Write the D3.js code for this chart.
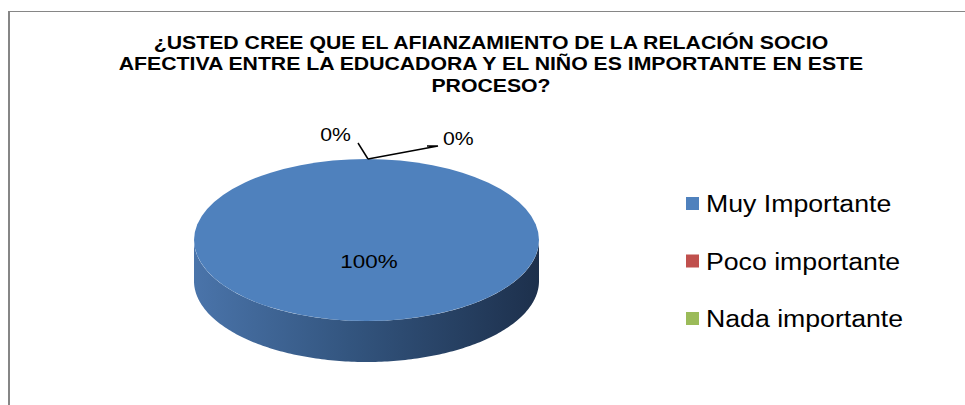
<!DOCTYPE html>
<html>
<head>
<meta charset="utf-8">
<script src="https://cdn.jsdelivr.net/npm/d3@7"></script>
<style>
  html, body { margin: 0; padding: 0; background: #fff; }
  svg { display: block; font-family: "Liberation Sans", Arial, sans-serif; }
</style>
</head>
<body>
<script>
// data
var categories = ["Muy Importante", "Poco importante", "Nada importante"];
var values = [100, 0, 0];
var colors = ["#4f81bd", "#c0504d", "#9bbb59"];
var titleLines = [
  "¿USTED CREE QUE EL AFIANZAMIENTO DE LA RELACIÓN SOCIO",
  "AFECTIVA ENTRE LA EDUCADORA Y EL NIÑO ES IMPORTANTE EN ESTE",
  "PROCESO?"
];

var W = 965, H = 405;
var SX = 1.18; // the original picture is a little wider than tall
var svg = d3.select("body").append("svg").attr("width", W).attr("height", H);

// text placed at x,y and stretched horizontally
function stext(parent, x, y) {
  return parent.append("g")
    .attr("transform", "translate(" + x + "," + y + ") scale(" + SX + ",1)")
    .append("text");
}

// frame
svg.append("line").attr("x1", 8).attr("y1", 11.5).attr("x2", W).attr("y2", 11.5)
  .attr("stroke", "#868686").attr("stroke-width", 1);
svg.append("line").attr("x1", 9).attr("y1", 11).attr("x2", 9).attr("y2", H)
  .attr("stroke", "#868686").attr("stroke-width", 2);

// title
stext(svg, 491, 0)
  .attr("text-anchor", "middle")
  .attr("font-weight", "bold")
  .attr("font-size", 18)
  .selectAll("tspan").data(titleLines).join("tspan")
  .attr("x", 0)
  .attr("y", function(d, i) { return 49 + i * 21.5; })
  .text(function(d) { return d; });

// pie geometry
var cx = 366.5, cy = 240, rx = 172.5, ry = 81, depth = 41;
var pie = d3.pie().sort(null).value(function(d) { return d; });
var arcs = pie(values);
var total = d3.sum(values);
var pct = d3.format(".0%");

var defs = svg.append("defs");
var grad = defs.append("linearGradient").attr("id", "side")
  .attr("x1", "0%").attr("x2", "100%").attr("y1", "0%").attr("y2", "0%");
grad.append("stop").attr("offset", "0%").attr("stop-color", "#4a74aa");
grad.append("stop").attr("offset", "45%").attr("stop-color", "#33557f");
grad.append("stop").attr("offset", "100%").attr("stop-color", "#1d304c");

// side wall (front half)
var sidePts = [];
d3.range(0, 181).forEach(function(a) {
  var t = a * Math.PI / 180;
  sidePts.push([cx + rx * Math.cos(t), cy + ry * Math.sin(t)]);
});
var sideBottom = sidePts.map(function(p) { return [p[0], p[1] + depth]; }).reverse();
svg.append("path")
  .attr("d", d3.line()(sidePts.concat(sideBottom)) + "Z")
  .attr("fill", "url(#side)");

// top face
var arc = d3.arc().innerRadius(0).outerRadius(rx);
svg.append("g")
  .attr("transform", "translate(" + cx + "," + cy + ") scale(1," + (ry / rx) + ")")
  .selectAll("path").data(arcs).join("path")
  .attr("d", arc)
  .attr("fill", function(d, i) { return colors[i]; });

// labels
arcs.filter(function(d) { return d.data > 0; }).forEach(function(d) {
  stext(svg, cx + 2.5, cy + 28)
    .attr("text-anchor", "middle")
    .attr("font-size", 19)
    .attr("fill", "#000")
    .text(pct(d.data / total));
});

// zero slices sit at the top of the ellipse, with leader lines
var topX = cx + 1.5, topY = cy - ry;
var zeros = arcs.filter(function(d) { return d.data === 0; });
var leaders = [
  { pts: [[-10, -16], [0, 0]], lx: -17, ly: -18, anchor: "end" },
  { pts: [[59, -13], [70, -13], [0, 0]], lx: 75, ly: -14, anchor: "start" }
];
zeros.forEach(function(d, i) {
  var L = leaders[i];
  svg.append("path")
    .attr("d", d3.line()(L.pts.map(function(p) { return [topX + p[0], topY + p[1]]; })))
    .attr("fill", "none").attr("stroke", "#000").attr("stroke-width", 1.5);
  stext(svg, topX + L.lx, topY + L.ly)
    .attr("text-anchor", L.anchor)
    .attr("font-size", 18)
    .text(pct(d.data / total));
});

// legend
var legend = svg.append("g").selectAll("g").data(categories).join("g")
  .attr("transform", function(d, i) { return "translate(686," + (203 + i * 57.5) + ")"; });
legend.append("rect")
  .attr("x", 0).attr("y", -6).attr("width", 13).attr("height", 13)
  .attr("fill", function(d, i) { return colors[i]; });
legend.append("text")
  .attr("transform", "translate(20,9) scale(1.16,1)")
  .attr("font-size", 23)
  .text(function(d) { return d; });
</script>
</body>
</html>
